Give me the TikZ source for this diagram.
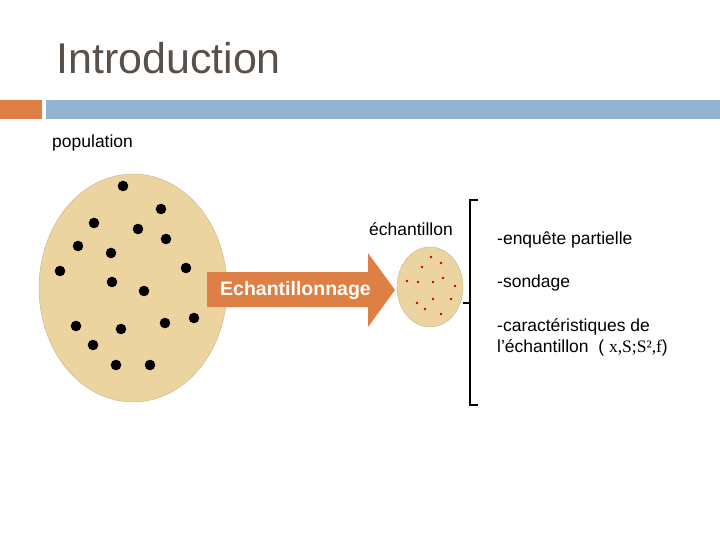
\documentclass[tikz,border=0pt]{standalone}
\usepackage{fontspec}
\setmainfont{Liberation Sans}
\newfontfamily\serifb{Liberation Serif}
\definecolor{beige}{RGB}{236,212,160}
\definecolor{ttl}{RGB}{89,80,74}
\definecolor{org}{RGB}{222,128,70}
\definecolor{blu}{RGB}{148,179,208}
\begin{document}
\begin{tikzpicture}[x=1pt,y=-1pt,
  bd/.style={fill=black,draw=none},
  rd/.style={fill=red!80!black,draw=none},
  lbl/.style={anchor=west,inner sep=0,font=\fontsize{17.5}{20}\selectfont}]
\useasboundingbox (0,0) rectangle (720,540);
\node[anchor=west,text=ttl,font=\fontsize{43}{48}\selectfont,inner sep=0] (title) at (56,58) {Introduction};
\fill[org] (0,100) rectangle (42,119);
\fill[blu] (46,100) rectangle (720,119);
\node[lbl] (pop) at (52,143) {population};
\fill[beige,draw=beige!60!gray] (133,288) ellipse [x radius=94,y radius=114];
\foreach \p in {(123,186),(161,209),(94,223),(138,229),(166,239),(78,246),(111,253),(60,271),(186,268),(112,282),(144,291),(194,318),(76,326),(121,329),(165,323),(93,345),(116,365),(150,365)}
  \fill[bd] \p circle (5.3);
\fill[org] (207,272) -- (368,272) -- (368,253) -- (395,290) -- (368,327) -- (368,307) -- (207,307) -- cycle;
\node[lbl,text=white,font=\bfseries\fontsize{19.5}{22}\selectfont] (ech) at (220,291) {Echantillonnage};
\fill[beige,draw=beige!60!gray] (430,287) ellipse [x radius=33,y radius=40];
\foreach \p in {(431,257),(441,263),(422,267),(443,278),(407,281),(418,282),(433,282),(455,286),(433,299),(451,299),(417,303),(425,309),(441,314)}
  \fill[rd] \p circle (1.3);
\node[inner sep=0,font=\fontsize{17.5}{20}\selectfont] (e) at (411,229) {échantillon};
\draw[line width=2.2pt] (478,200) -- (470,200) -- (470,405) -- (478,405);
\draw[line width=2.2pt] (470,303) -- (463,303);
\node[lbl] (a) at (497,240) {-enquête partielle};
\node[lbl] (b) at (497,283) {-sondage};
\node[lbl] (c) at (497,327) {-caractéristiques de};
\node[lbl] (d) at (497,348) {l’échantillon\ \ ( {\serifb x,S;S²,f})};
\end{tikzpicture}
\end{document}
